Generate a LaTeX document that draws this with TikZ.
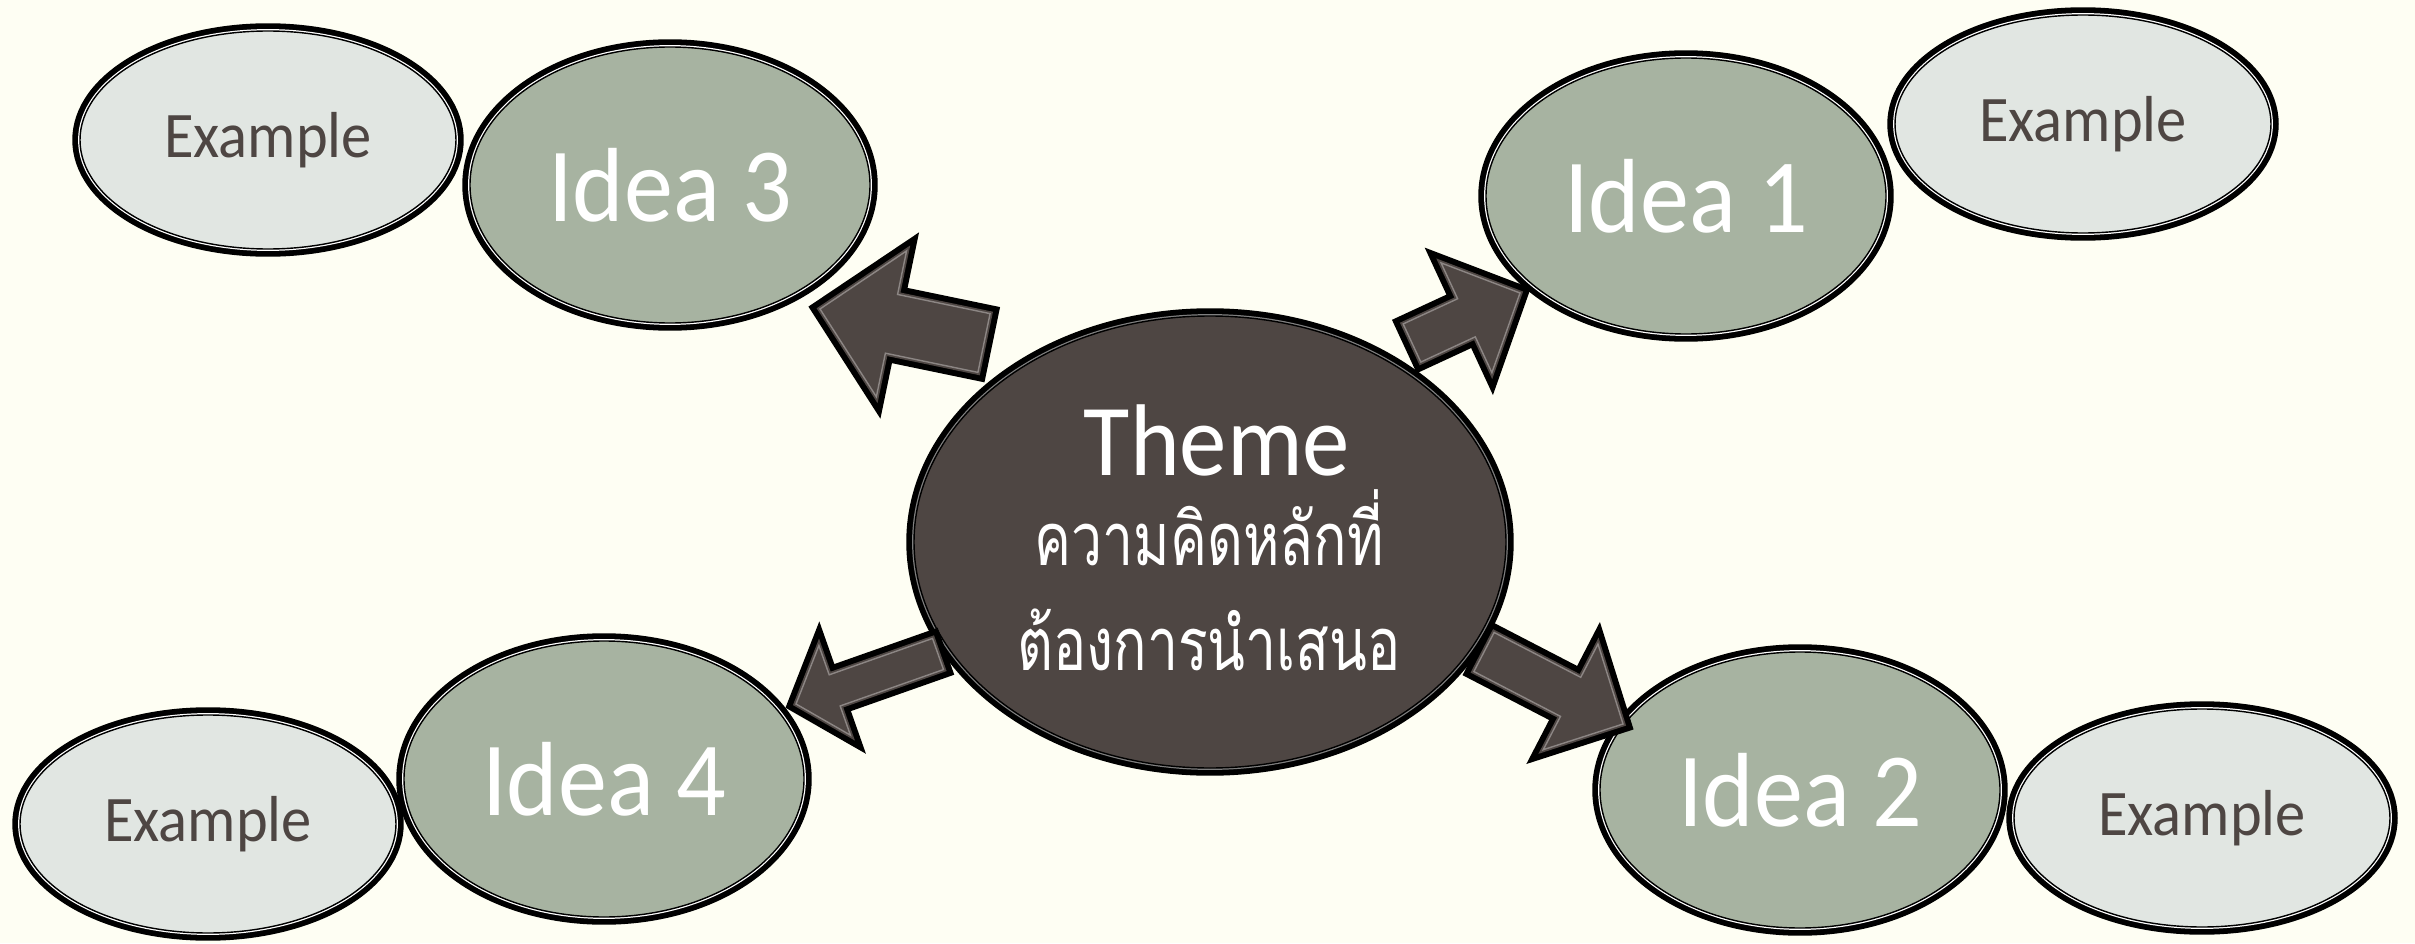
\documentclass[tikz,border=0pt]{standalone}
\usepackage{fontspec}
\setmainfont{Carlito}[FakeStretch=0.93]
\newfontfamily\thaifont[Script=Thai, FakeStretch=0.75]{Loma}
\usetikzlibrary{shapes.geometric, calc}

\definecolor{bgcream}{HTML}{FEFEF3}
\definecolor{themefill}{HTML}{4E4643}
\definecolor{ideafill}{HTML}{A7B3A1}
\definecolor{examplefill}{HTML}{E1E6E2}
\definecolor{arrowrim}{HTML}{8C8684}

% block arrow: from, to, shaft half width, head half width, head length
\newcommand{\blockarrow}[5]{%
  \coordinate (#1#2h) at ($(#2)!#5!(#1)$);
  \draw[blockarrow] ($(#1)!#3!90:(#2)$) -- ($(#1#2h)!#3!90:(#2)$) -- ($(#1#2h)!#4!90:(#2)$) -- (#2)
    -- ($(#1#2h)!#4!-90:(#2)$) -- ($(#1#2h)!#3!-90:(#2)$) -- ($(#1)!#3!-90:(#2)$) -- cycle;
}

\begin{document}
\begin{tikzpicture}[
  bubble/.style={ellipse, inner sep=0pt, draw=black, line width=0.4pt,
    preaction={draw=black, line width=4.4pt}, preaction={draw=#1, line width=1.1pt}},
  bubble/.default=white,
  idea/.style={bubble, fill=ideafill, text=white, font=\fontsize{30}{36}\selectfont,
    minimum width=4.00cm, minimum height=2.76cm},
  example/.style={bubble, fill=examplefill, text=themefill, font=\fontsize{18.5}{22}\selectfont,
    minimum width=3.76cm, minimum height=2.18cm},
  blockarrow/.style={fill=themefill, draw=arrowrim, line width=0.4pt, line join=miter,
    preaction={draw=black, line width=4.8pt}, preaction={draw=themefill, line width=1.4pt}},
  themetext/.style={text=white, anchor=base, inner sep=0pt}
]
\useasboundingbox (0,0) rectangle (24.15,9.43);
\fill[bgcream] (0,0) rectangle (24.15,9.43);

% examples
\node[example] (ex3) at (2.68,8.03) {Example};
\node[example] (ex1) at (20.83,8.19) {Example};
\node[example] (ex4) at (2.08,1.19) {Example};
\node[example] (ex2) at (22.02,1.25) {Example};

% ideas
\node[idea] (idea3) at (6.70,7.58) {Idea 3};
\node[idea] (idea1) at (16.86,7.47) {Idea 1};
\node[idea] (idea4) at (6.04,1.64) {Idea 4};
\node[idea] (idea2) at (18.00,1.53) {Idea 2};

% theme
\node[bubble=gray, fill=themefill, minimum width=5.92cm, minimum height=4.52cm] (theme) at (12.10,4.01) {};
\node[themetext, font=\fontsize{29}{34}\selectfont] (themetitle) at ($(theme.center)+(0.07,0.67)$) {Theme};
\node[themetext, font=\thaifont\fontsize{21}{26}\selectfont] (themeline1) at ($(theme.center)+(-0.01,-0.23)$) {ความคิดหลักที่};
\node[themetext, font=\thaifont\fontsize{21}{26}\selectfont] (themeline2) at ($(theme.center)+(-0.01,-1.28)$) {ต้องการนำเสนอ};

% arrows
\coordinate (from3) at (9.84,6.00);
\coordinate (to3) at (8.20,6.34);
\coordinate (from1) at (14.12,6.00);
\coordinate (to1) at (15.20,6.50);
\coordinate (from4) at (9.38,2.89);
\coordinate (to4) at (7.96,2.39);
\coordinate (from2) at (14.84,2.91);
\coordinate (to2) at (16.23,2.19);

\blockarrow{from3}{to3}{0.30cm}{0.745cm}{0.73cm}
\blockarrow{from1}{to1}{0.21cm}{0.605cm}{0.59cm}
\blockarrow{from4}{to4}{0.165cm}{0.475cm}{0.41cm}
\blockarrow{from2}{to2}{0.22cm}{0.595cm}{0.59cm}
\end{tikzpicture}
\end{document}
